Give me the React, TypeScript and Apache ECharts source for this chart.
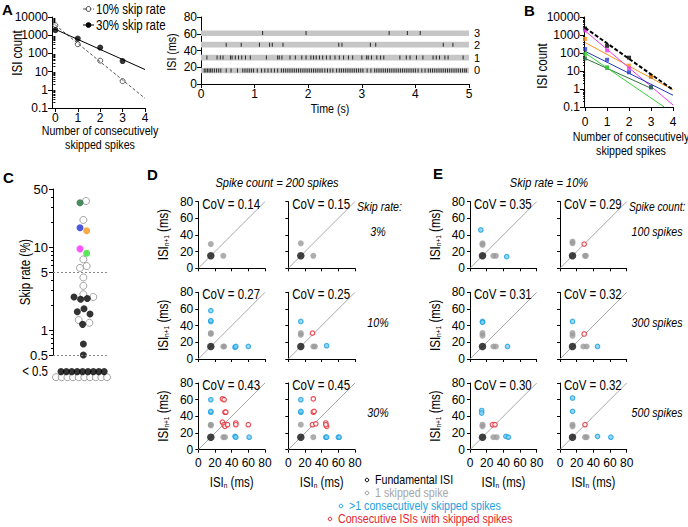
import { useEffect, useRef } from 'react';
import * as echarts from 'echarts';

const FF = '"Liberation Sans", Arial, Helvetica, sans-serif';
const FS = 13;      // graphic texts (horizontally condensed)
const TICK_FS = 12; // axis tick labels
const NARROW = 0.82;

// ===== Panel A (left): ISI count vs number of consecutively skipped spikes =====
const A_SKIPPED = [0, 1, 2, 3];
const A_COUNT_10 = [3500, 320, 40, 3];
const A_COUNT_30 = [1900, 650, 210, 38];
const A_FIT_X = [0, 4];
const A_FIT_10 = [3600, 0.34];
const A_FIT_30 = [2100, 13];
const A_LEGEND = ['10% skip rate', '30% skip rate'];
const COUNT_TICKS = [0, 1, 2, 3, 4];

// ===== Panel A (right): raster of ISIs over time =====
const RASTER_LABELS = ['0', '1', '2', '3'];
const RASTER_ISI = [16, 31.5, 47, 61];
const RASTER_BANDS = [[12.8, 19.5], [28, 35], [43.5, 50.5], [57.3, 64]];
const RASTER_T0 = [0.06, 0.09, 0.12, 0.15, 0.18, 0.21, 0.25, 0.29, 0.33, 0.37, 0.47, 0.56, 0.68, 0.78, 0.82, 0.86, 0.9, 0.94, 0.98, 1.05, 1.13, 1.19, 1.25, 1.31, 1.37, 1.43, 1.5, 1.54, 1.58, 1.62, 1.66, 1.7, 1.74, 1.78, 1.82, 1.86, 1.9, 1.94, 1.98, 2.02, 2.06, 2.1, 2.14, 2.18, 2.22, 2.26, 2.31, 2.36, 2.41, 2.46, 2.53, 2.58, 2.62, 2.66, 2.7, 2.74, 2.78, 2.82, 2.86, 2.9, 2.94, 2.98, 3.02, 3.1, 3.17, 3.24, 3.28, 3.32, 3.36, 3.4, 3.44, 3.48, 3.52, 3.56, 3.6, 3.64, 3.68, 3.72, 3.76, 3.8, 3.84, 3.88, 3.92, 3.96, 4.0, 4.05, 4.12, 4.18, 4.24, 4.28, 4.32, 4.36, 4.4, 4.44, 4.48, 4.52, 4.56, 4.6, 4.64, 4.68, 4.72, 4.76, 4.8, 4.84, 4.88, 4.92, 4.95];
const RASTER_T1 = [0.11, 0.3, 0.36, 0.41, 0.55, 0.58, 0.64, 0.7, 0.76, 0.83, 0.92, 1.22, 1.43, 1.46, 1.51, 1.66, 1.76, 1.88, 1.96, 2.05, 2.1, 2.15, 2.21, 2.27, 2.34, 2.41, 2.5, 2.58, 2.66, 2.75, 2.83, 3.0, 3.09, 3.12, 3.18, 3.28, 3.35, 3.41, 3.71, 3.83, 3.9, 4.02, 4.14, 4.33, 4.39, 4.45, 4.55, 4.61, 4.89];
const RASTER_T2 = [0.47, 0.75, 1.09, 1.28, 1.33, 1.53, 2.57, 2.63, 3.16, 3.26, 4.52, 4.7];
const RASTER_T3 = [1.15, 1.96, 3.51, 3.85, 4.09];
const RASTER_TIMES = [RASTER_T0, RASTER_T1, RASTER_T2, RASTER_T3];

// ===== Panel B: fits for individual recordings =====
const B_COLORS = ['#000000', '#f7941d', '#ee3aee', '#2638c4', '#2f6f3f', '#35d435'];
const B_FIT_START = [2500, 380, 1700, 125, 50, 100];
const B_FIT_END_X = [4, 4, 4, 4, 3, 3.6];
const B_FIT_END = [0.9, 0.9, 0.13, 0.45, 1.1, 0.1];
const B_PTS_BLACK = [[0, 2300], [1, 250], [2, 55], [3, 5]];
const B_PTS_ORANGE = [[0, 600], [2, 20], [3, 5]];
const B_PTS_MAGENTA = [[0, 1800], [1, 140], [2, 14]];
const B_PTS_BLUE = [[0, 165], [1, 42], [2, 8.5], [3, 1.3]];
const B_PTS_DKGREEN = [[0, 50], [1, 15], [3, 1.2]];
const B_PTS_GREEN = [[0, 90], [1, 16]];
const B_POINTS = [B_PTS_BLACK, B_PTS_ORANGE, B_PTS_MAGENTA, B_PTS_BLUE, B_PTS_DKGREEN, B_PTS_GREEN];

// ===== Panel C: skip rates (beeswarm x position, skip rate %) =====
const C_LABELS = [0.5, 1, 5, 10, 50];
const C_BLACK = [[3.5, 2.5], [4.6, 2.35], [5.72, 2.4], [4.05, 1.66], [5.17, 1.8], [6.17, 1.56], [4.94, 1.17], [5.06, 0.68], [5.06, 0.5]];
const C_OPEN = [[5.5, 35.8], [5.06, 21.2], [5.06, 7.1], [4.5, 5.6], [5.61, 5.9], [5.06, 4.3], [5.06, 3.4], [5.06, 2.7], [6.72, 2.5], [4.28, 1.32], [6.06, 1.22]];
const C_COLOR_PTS = [[4.5, 34.2], [4.5, 17.1], [5.61, 15.7], [4.5, 9.5], [5.61, 8.4]];
const C_COLOR_FILL = ['#1e6b3a', '#1f2fd6', '#f7941d', '#ff2bff', '#33e033'];
const C_BELOW_BLACK = [1.33, 2.23, 3.13, 4.03, 4.93, 5.83, 6.73, 7.63, 8.53];
const C_BELOW_OPEN = [0.5, 1.45, 2.4, 3.33, 4.28, 5.22, 6.17, 7.12, 8.05, 9.0];
const C_DOTTED = [5, 0.5];

// ===== Panels D and E: ISI(n+1) vs ISI(n) =====
const D_COV = [[0.14, 0.15], [0.27, 0.25], [0.43, 0.45]];
const D_ROW_LABELS = ['3%', '10%', '30%'];
const D_FUND = [[15, 15]];
const D_ONE = [
  [[[15, 29], [30, 15]], [[15, 30], [30, 15]]],
  [[[15, 30], [15, 31], [30, 15], [31, 15]], [[15, 29], [15, 31], [30, 15], [32, 15]]],
  [[[15, 30], [15, 29], [30, 15], [32, 15]], [[15, 30], [30, 15]]],
];
const D_MULTI = [
  [[], []],
  [[[15, 58], [15, 45], [15, 46], [44, 14], [45, 15], [60, 15]], [[15, 45], [46, 16]]],
  [[[15, 60], [15, 45], [15, 46], [44, 16], [45, 15], [61, 15]], [[15, 60], [15, 45], [15, 46], [45, 15], [46, 15], [60, 15], [61, 15]]],
];
const D_CONSEC = [
  [[], []],
  [[], [[29, 31]]],
  [[[29, 61], [31, 60], [32, 45], [33, 45], [29, 33], [31, 30], [32, 28], [35, 30], [45, 32], [45, 30], [60, 30]],
   [[30, 61], [30, 45], [31, 46], [29, 30], [33, 31], [45, 32], [46, 28], [45, 30]]],
];
const E_COV = [[0.35, 0.29], [0.31, 0.32], [0.30, 0.32]];
const E_ROW_LABELS = ['100 spikes', '300 spikes', '500 spikes'];
const E_FUND = [[15, 15]];
const E_ONE = [
  [[[15, 30], [15, 28], [28, 15], [31, 15]], [[15, 30], [15, 32], [30, 15], [31, 15]]],
  [[[15, 31], [15, 28], [28, 15], [31, 15]], [[15, 31], [15, 28], [28, 15], [32, 15]]],
  [[[15, 30], [15, 28], [28, 15], [32, 15]], [[15, 30], [15, 28], [30, 15], [32, 15]]],
];
const E_MULTI = [
  [[[13, 46], [44, 14]], []],
  [[[15, 45], [15, 44], [45, 15]], [[15, 45], [45, 15]]],
  [[[14, 47], [14, 44], [43, 16], [46, 15]], [[15, 62], [15, 46], [45, 16], [61, 15]]],
];
const E_CONSEC = [
  [[], [[29, 29]]],
  [[], [[29, 30]]],
  [[[27, 30], [30, 30]], [[30, 30]]],
];
const LEGEND_TEXT = ['Fundamental ISI', '1 skipped spike', '>1 consecutively skipped spikes', 'Consecutive ISIs with skipped spikes'];

// ===== layout (pixels) =====
const D_LEFTS = [198.3, 288.3];
const E_LEFTS = [470, 560];
const ROW_TOPS = [201.6, 292.3, 383];
const PSIZE = 66.7;

const COLOR_ONE = '#9a9a9a';
const COLOR_MULTI = '#1ba1e2';
const COLOR_CONSEC = '#e3262e';

function minorLog(lo: number, hi: number, exclude: number[] = []) {
  const out: number[] = [];
  for (let e = Math.floor(Math.log10(lo)); e < Math.ceil(Math.log10(hi)); e++) {
    for (let m = 2; m <= 9; m++) {
      const v = +(m * Math.pow(10, e)).toPrecision(3);
      if (v > lo && v < hi && exclude.indexOf(v) < 0) out.push(v);
    }
  }
  return out;
}

function buildOption() {
  const grid: any[] = [];
  const xAxis: any[] = [];
  const yAxis: any[] = [];
  const series: any[] = [];
  const graphic: any[] = [];

  const base = (gi: number, o: any = {}) => ({
    gridIndex: gi,
    ...o,
    axisLine: { show: true, onZero: false, lineStyle: { color: '#000', width: 1 }, ...(o.axisLine || {}) },
    axisTick: { show: true, inside: false, length: 4, lineStyle: { color: '#000', width: 1 }, ...(o.axisTick || {}) },
    axisLabel: { show: true, color: '#000', fontFamily: FF, fontSize: TICK_FS, margin: 4, ...(o.axisLabel || {}) },
    splitLine: { show: false },
    splitArea: { show: false },
  });
  const addGrid = (left: number, top: number, width: number, height: number) => {
    grid.push({ left, top, width, height });
    return grid.length - 1;
  };
  const addX = (o: any) => { xAxis.push(o); return xAxis.length - 1; };
  const addY = (o: any) => { yAxis.push(o); return yAxis.length - 1; };
  const hiddenAxis = (gi: number, min: number, max: number) => ({
    gridIndex: gi, type: 'value', min, max, show: false, splitLine: { show: false },
  });
  const text = (x: number, y: number, t: string, o: any = {}) => {
    const sx = o.scale === undefined ? NARROW : o.scale;
    graphic.push({
      type: 'text', x, y, rotation: o.rot || 0, scaleX: sx, scaleY: 1, silent: true, z: 50,
      style: {
        text: t, fill: o.color || '#000', fontFamily: FF, fontSize: o.size || FS,
        fontStyle: o.italic ? 'italic' : 'normal', fontWeight: o.bold ? 'bold' : 'normal',
        textAlign: o.align || 'center', align: o.align || 'center',
        textVerticalAlign: 'middle', verticalAlign: 'middle',
        rich: o.rich,
      },
    });
  };
  const subRich = () => ({
    s: { fontSize: 8, fontFamily: FF, verticalAlign: 'bottom', lineHeight: 15 },
  });

  // ---------------- Panel A left ----------------
  const gA = addGrid(52, 17, 93, 91);
  const xA = addX(base(gA, { type: 'value', min: -0.15, max: 4,
    axisTick: { customValues: COUNT_TICKS }, axisLabel: { customValues: COUNT_TICKS, margin: 4 } }));
  const yA = addY(base(gA, { type: 'log', logBase: 10, min: 0.1, max: 10000, position: 'left',
    axisLabel: { margin: 4, formatter: (v: number) => String(v) } }));
  addY({ gridIndex: gA, type: 'log', logBase: 10, min: 0.1, max: 10000, position: 'left',
    axisLine: { show: false }, axisLabel: { show: false }, splitLine: { show: false },
    axisTick: { show: true, length: 2, customValues: minorLog(0.1, 10000), lineStyle: { color: '#000' } } });
  series.push({ type: 'line', xAxisIndex: xA, yAxisIndex: yA, symbol: 'none', silent: true,
    data: A_FIT_X.map((x, i) => [x, A_FIT_10[i]]), lineStyle: { color: '#555', width: 1, type: [3, 2] } });
  series.push({ type: 'line', xAxisIndex: xA, yAxisIndex: yA, symbol: 'none', silent: true,
    data: A_FIT_X.map((x, i) => [x, A_FIT_30[i]]), lineStyle: { color: '#000', width: 1 } });
  series.push({ type: 'scatter', name: A_LEGEND[0], xAxisIndex: xA, yAxisIndex: yA, symbolSize: 5,
    data: A_SKIPPED.map((x, i) => [x, A_COUNT_10[i]]),
    itemStyle: { color: '#fff', borderColor: '#333', borderWidth: 1 } });
  series.push({ type: 'scatter', name: A_LEGEND[1], xAxisIndex: xA, yAxisIndex: yA, symbolSize: 6,
    data: A_SKIPPED.map((x, i) => [x, A_COUNT_30[i]]), itemStyle: { color: '#000' } });
  // legend of A
  graphic.push({ type: 'line', shape: { x1: 83, y1: 9, x2: 94, y2: 9 }, style: { stroke: '#555', lineWidth: 1, lineDash: [3, 2] }, silent: true });
  graphic.push({ type: 'circle', shape: { cx: 88.5, cy: 9, r: 2.4 }, style: { fill: '#fff', stroke: '#333', lineWidth: 1 }, silent: true });
  graphic.push({ type: 'line', shape: { x1: 83, y1: 25, x2: 94, y2: 25 }, style: { stroke: '#000', lineWidth: 1 }, silent: true });
  graphic.push({ type: 'circle', shape: { cx: 88.5, cy: 25, r: 2.8 }, style: { fill: '#000' }, silent: true });
  text(96, 9, A_LEGEND[0], { align: 'left', size: 14 });
  text(96, 25, A_LEGEND[1], { align: 'left', size: 14 });
  text(2, 9, 'A', { align: 'left', bold: true, size: 15, scale: 1 });
  text(17, 53, 'ISI count', { rot: Math.PI / 2, size: 14 });
  text(100, 131, 'Number of consecutively');
  text(100, 145, 'skipped spikes');

  // ---------------- Panel A right: raster ----------------
  const gR = addGrid(201, 17, 268, 67);
  const xR = addX(base(gR, { type: 'value', min: 0, max: 5, interval: 1 }));
  const yR = addY(base(gR, { type: 'value', min: 0, max: 80, interval: 20, position: 'left' }));
  RASTER_TIMES.forEach((times, r) => {
    const s: any = {
      type: 'scatter', xAxisIndex: xR, yAxisIndex: yR, symbol: 'rect', symbolSize: [1, 4], silent: true, z: 3,
      data: times.map((t) => [t, RASTER_ISI[r]]), itemStyle: { color: '#000' },
    };
    if (r === 0) {
      s.markArea = {
        silent: true,
        itemStyle: { color: '#c6c6c6' },
        label: { show: true, position: 'right', distance: 5, color: '#000', fontFamily: FF, fontSize: 11, lineHeight: 11, formatter: '{b}' },
        data: RASTER_BANDS.map((b, i) => [{ name: RASTER_LABELS[i], coord: [0, b[0]] }, { coord: [5, b[1]] }]),
      };
    }
    series.push(s);
  });
  text(172, 52, 'ISI (ms)', { rot: Math.PI / 2 });
  text(330, 109, 'Time (s)');

  // ---------------- Panel B ----------------
  const gB = addGrid(584, 17, 89, 90);
  const xB = addX(base(gB, { type: 'value', min: -0.05, max: 4,
    axisTick: { customValues: COUNT_TICKS }, axisLabel: { customValues: COUNT_TICKS, margin: 9 } }));
  const yB = addY(base(gB, { type: 'log', logBase: 10, min: 0.1, max: 10000, position: 'left',
    axisLabel: { margin: 4, formatter: (v: number) => String(v) } }));
  addY({ gridIndex: gB, type: 'log', logBase: 10, min: 0.1, max: 10000, position: 'left',
    axisLine: { show: false }, axisLabel: { show: false }, splitLine: { show: false },
    axisTick: { show: true, length: 2, customValues: minorLog(0.1, 10000), lineStyle: { color: '#000' } } });
  B_COLORS.forEach((c, i) => {
    series.push({ type: 'line', xAxisIndex: xB, yAxisIndex: yB, symbol: 'none', silent: true, z: i === 0 ? 4 : 2,
      data: [[0, B_FIT_START[i]], [B_FIT_END_X[i], B_FIT_END[i]]],
      lineStyle: i === 0 ? { color: c, width: 2, type: [4, 2] } : { color: c, width: 1 } });
    series.push({ type: 'scatter', xAxisIndex: xB, yAxisIndex: yB, symbol: 'rect', symbolSize: 4, silent: true,
      data: B_POINTS[i], itemStyle: { color: c } });
  });
  text(524, 10, 'B', { align: 'left', bold: true, size: 15, scale: 1 });
  text(542, 66, 'ISI count', { rot: Math.PI / 2, size: 14 });
  text(631, 137, 'Number of consecutively');
  text(631, 151, 'skipped spikes');

  // ---------------- Panel C ----------------
  const gC = addGrid(53, 189, 60, 166);
  const xC = addX(hiddenAxis(gC, 0, 10));
  const yC = addY(base(gC, { type: 'log', logBase: 10, min: 0.5, max: 50, position: 'left',
    axisTick: { customValues: C_LABELS },
    axisLabel: { customValues: C_LABELS, margin: 5, fontSize: 13, formatter: (v: number) => String(v) } }));
  addY({ gridIndex: gC, type: 'log', logBase: 10, min: 0.5, max: 50, position: 'left',
    axisLine: { show: false }, axisLabel: { show: false }, splitLine: { show: false },
    axisTick: { show: true, length: 2, customValues: minorLog(0.5, 50, C_LABELS), lineStyle: { color: '#000' } } });
  series.push({ type: 'scatter', xAxisIndex: xC, yAxisIndex: yC, symbolSize: 7, silent: true,
    data: C_OPEN, itemStyle: { color: '#fff', borderColor: '#8c8c8c', borderWidth: 1 },
    markLine: { silent: true, symbol: 'none', label: { show: false },
      lineStyle: { color: '#888', width: 1, type: [2, 2] },
      data: C_DOTTED.map((v) => [{ coord: [0, v] }, { coord: [9.3, v] }]) } });
  series.push({ type: 'scatter', xAxisIndex: xC, yAxisIndex: yC, symbolSize: 7, silent: true,
    data: C_BLACK, itemStyle: { color: '#000' } });
  series.push({ type: 'scatter', xAxisIndex: xC, yAxisIndex: yC, symbolSize: 7, silent: true,
    data: C_COLOR_PTS.map((p, i) => ({ value: p, itemStyle: { color: C_COLOR_FILL[i] } })) });
  const gC2 = addGrid(53, 366, 60, 14);
  const xC2 = addX(hiddenAxis(gC2, 0, 10));
  const yC2 = addY(hiddenAxis(gC2, 0, 1));
  series.push({ type: 'scatter', xAxisIndex: xC2, yAxisIndex: yC2, symbolSize: 7, silent: true,
    data: C_BELOW_OPEN.map((x) => [x, 0.2]), itemStyle: { color: '#fff', borderColor: '#8c8c8c', borderWidth: 1 } });
  series.push({ type: 'scatter', xAxisIndex: xC2, yAxisIndex: yC2, symbolSize: 7, silent: true,
    data: C_BELOW_BLACK.map((x) => [x, 0.6]), itemStyle: { color: '#000' } });
  text(3, 177, 'C', { align: 'left', bold: true, size: 15, scale: 1 });
  text(25, 272, 'Skip rate (%)', { rot: Math.PI / 2, size: 14 });
  text(48, 371, '< 0.5', { align: 'right', size: 14 });

  // ---------------- Panels D & E ----------------
  const addPanel = (left: number, top: number, showX: boolean, showY: boolean,
    one: number[][], multi: number[][], consec: number[][], fund: number[][], cov: number) => {
    const g = addGrid(left, top, PSIZE, PSIZE);
    const xi = addX(base(g, { type: 'value', min: 0, max: 80, interval: 20,
      axisTick: { length: 3 }, axisLabel: { show: showX, margin: 7 } }));
    const yi = addY(base(g, { type: 'value', min: 0, max: 80, interval: 20, position: 'left',
      axisTick: { length: 3 }, axisLabel: { show: showY, margin: 5 } }));
    series.push({ type: 'line', xAxisIndex: xi, yAxisIndex: yi, symbol: 'none', silent: true, z: 1,
      data: [[0, 0], [80, 80]], lineStyle: { color: '#a8a8a8', width: 1 } });
    series.push({ type: 'scatter', xAxisIndex: xi, yAxisIndex: yi, symbolSize: 6, silent: true,
      data: one, itemStyle: { color: COLOR_ONE } });
    series.push({ type: 'scatter', xAxisIndex: xi, yAxisIndex: yi, symbolSize: 4.5, silent: true,
      data: multi, itemStyle: { color: '#7fcdf0', borderColor: COLOR_MULTI, borderWidth: 1.2 } });
    series.push({ type: 'scatter', xAxisIndex: xi, yAxisIndex: yi, symbolSize: 4.5, silent: true,
      data: consec, itemStyle: { color: '#fff', borderColor: COLOR_CONSEC, borderWidth: 1.2 } });
    series.push({ type: 'scatter', xAxisIndex: xi, yAxisIndex: yi, symbolSize: 7.5, silent: true,
      data: fund, itemStyle: { color: '#111' } });
    text(left + 4, top + 2, 'CoV = ' + cov.toFixed(2), { align: 'left', size: 14 });
  };
  for (let r = 0; r < 3; r++) {
    for (let c = 0; c < 2; c++) {
      addPanel(D_LEFTS[c], ROW_TOPS[r], r === 2, c === 0, D_ONE[r][c], D_MULTI[r][c], D_CONSEC[r][c], D_FUND, D_COV[r][c]);
      addPanel(E_LEFTS[c], ROW_TOPS[r], r === 2, c === 0, E_ONE[r][c], E_MULTI[r][c], E_CONSEC[r][c], E_FUND, E_COV[r][c]);
    }
    text(163, ROW_TOPS[r] + 33, 'ISI{s|n+1} (ms)', { rot: Math.PI / 2, rich: subRich(), size: 14 });
    text(435, ROW_TOPS[r] + 33, 'ISI{s|n+1} (ms)', { rot: Math.PI / 2, rich: subRich(), size: 14 });
    text(378, ROW_TOPS[r] + 30, D_ROW_LABELS[r], { italic: true, size: 13 });
    text(657, ROW_TOPS[r] + 30, E_ROW_LABELS[r], { italic: true, size: 13 });
  }
  [D_LEFTS, E_LEFTS].forEach((lefts) => lefts.forEach((l) =>
    text(l + PSIZE / 2, 482, 'ISI{s|n} (ms)', { rich: subRich(), size: 14 })));
  text(147, 174, 'D', { align: 'left', bold: true, size: 15, scale: 1 });
  text(433, 173, 'E', { align: 'left', bold: true, size: 15, scale: 1 });
  text(277, 183, 'Spike count = 200 spikes', { italic: true, size: 13.5 });
  text(549, 183, 'Skip rate = 10%', { italic: true, size: 13.5 });
  text(357, 207, 'Skip rate:', { italic: true, align: 'left', size: 13 });
  text(629, 207, 'Spike count:', { italic: true, align: 'left', size: 12.5 });

  // bottom legend
  const legendX = [375, 375, 349, 338];
  const legendStroke = ['#000', COLOR_ONE, COLOR_MULTI, COLOR_CONSEC];
  const legendText = ['#000', '#a6a6a6', COLOR_MULTI, COLOR_CONSEC];
  LEGEND_TEXT.forEach((t, i) => {
    const y = 480 + i * 13;
    graphic.push({ type: 'circle', shape: { cx: legendX[i] - 8, cy: y, r: 1.8 }, style: { fill: '#fff', stroke: legendStroke[i], lineWidth: 1 }, silent: true });
    text(legendX[i], y, t, { align: 'left', color: legendText[i], size: 13 });
  });

  return {
    animation: false,
    backgroundColor: '#fff',
    textStyle: { fontFamily: FF },
    grid, xAxis, yAxis, series, graphic,
  };
}

export default function App() {
  const ref = useRef<HTMLDivElement>(null);
  useEffect(() => {
    if (!ref.current) return;
    const chart = echarts.init(ref.current, null, { renderer: 'svg' });
    chart.setOption(buildOption() as any);
    return () => chart.dispose();
  }, []);
  return <div ref={ref} style={{ position: 'fixed', left: 0, top: 0, width: 688, height: 527, background: '#fff' }} />;
}
